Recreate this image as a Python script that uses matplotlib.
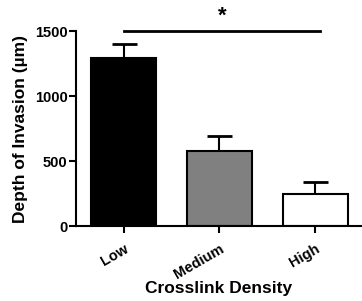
import numpy as np
import matplotlib.pyplot as plt

plt.rcParams['font.family'] = ['Liberation Sans', 'DejaVu Sans']
plt.rcParams['font.weight'] = 'bold'

categories = ['Low', 'Medium', 'High']
means = [1295, 580, 245]
errors = [105, 110, 95]
colors = ['black', 'gray', 'white']

fig = plt.figure(figsize=(3.62, 3.01), dpi=100)
ax = fig.add_axes([0.21, 0.249, 0.79, 0.648])

x = np.arange(len(categories))
ax.bar(x, means, width=0.68, color=colors, edgecolor='black', linewidth=1.5, zorder=2)
ax.errorbar(x, means, yerr=[[0]*3, errors], fmt='none', ecolor='black',
            elinewidth=1.5, capsize=9, capthick=2, zorder=1)

ax.set_xlim(-0.5, 2.49)
ax.set_ylim(0, 1500)
ax.set_yticks([0, 500, 1000, 1500])
ax.set_xticks(x)
ax.set_xticklabels(categories, rotation=30, ha='right', rotation_mode='anchor', fontsize=10.5)
ax.tick_params(axis='y', labelsize=10.5, width=1.5, length=5, pad=1)
ax.tick_params(axis='x', width=1.5, length=5, pad=6)

for s in ['top', 'right']:
    ax.spines[s].set_visible(False)
for s in ['left', 'bottom']:
    ax.spines[s].set_linewidth(1.5)

ax.set_ylabel('Depth of Invasion (µm)', fontsize=12.5, fontweight='bold', labelpad=5)
ax.set_xlabel('Crosslink Density', fontsize=12.5, fontweight='bold', labelpad=0)

# significance bar
ax.plot([0, 2.05], [1500, 1500], color='black', lw=2, clip_on=False)
ax.text(1.03, 1530, '*', ha='center', va='bottom', fontsize=16, fontweight='bold')

fig.savefig('out.png', dpi=100)
